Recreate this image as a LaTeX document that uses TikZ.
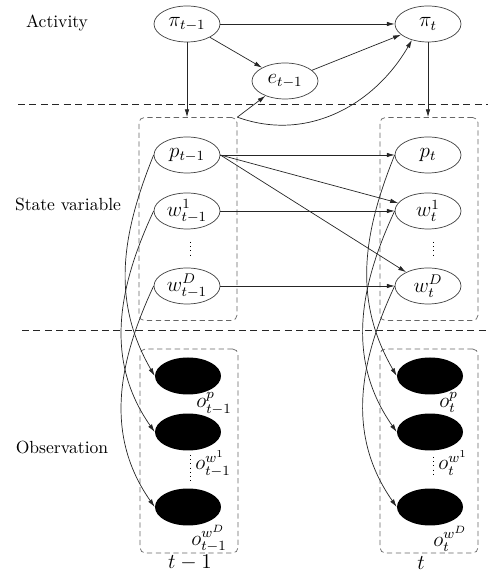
\documentclass[tikz,border=0pt]{standalone}
\usepackage{amsmath,amssymb}
\usepackage{xcolor}
\usepackage{tikz}
\usetikzlibrary{arrows.meta,shapes.geometric}

\begin{document}
\begin{tikzpicture}[x=0.02cm,y=0.02cm,
  var/.style={ellipse,draw=black!75,minimum width=1.32cm,minimum height=0.72cm,inner sep=0pt,font=\large},
  obs/.style={ellipse,fill=black,minimum width=1.32cm,minimum height=0.74cm,inner sep=0pt},
  olab/.style={anchor=base west,inner sep=0pt,font=\large},
  slice/.style={draw=black!60,dash pattern=on 3pt off 2pt,rounded corners=3pt,minimum width=1.96cm},
  arr/.style={-{Latex[length=4.5pt,width=2.6pt]},black!85},
  rowline/.style={dash pattern=on 4pt off 2.5pt,black!85}]
  \useasboundingbox (0,0) rectangle (488,574);

  % layer separators
  \draw[rowline] (18,470) -- (488,470);
  \draw[rowline] (22,244) -- (488,244);

  % layer names
  \node (lact)   at (57,551) {Activity};
  \node (lstate) at (68,369) {State variable};
  \node (lobs)   at (62,126) {Observation};

  % time slices
  \node[slice,minimum height=4.06cm] (sbox1) at (188,355) {};
  \node[slice,minimum height=4.06cm] (sbox2) at (429,355) {};
  \node[slice,minimum height=4.08cm] (obox1) at (189,123) {};
  \node[slice,minimum height=4.08cm] (obox2) at (429,123) {};
  \node[font=\large] (tprev) at (190,11) {$t-1$};
  \node[font=\large] (tcur)  at (421,11) {$t$};

  % activity layer
  \node[var] (pi1) at (187,550) {$\pi_{t-1}$};
  \node[var] (pi2) at (428,550) {$\pi_t$};
  \node[var] (e1)  at (285,493) {$e_{t-1}$};

  % state variables
  \node[var] (p1)  at (187,419) {$p_{t-1}$};
  \node[var] (wa1) at (187,363) {$w^1_{t-1}$};
  \node[var] (wd1) at (187,288) {$w^D_{t-1}$};
  \node[var] (p2)  at (428,419) {$p_t$};
  \node[var] (wa2) at (428,363) {$w^1_t$};
  \node[var] (wd2) at (428,288) {$w^D_t$};
  \draw[dotted] (190,332) -- (190,318);
  \draw[dotted] (433,332) -- (433,318);

  % observations
  \node[obs] (op1)  at (188,198) {};
  \node[obs] (owa1) at (188,142) {};
  \node[obs] (owd1) at (188,67) {};
  \node[obs] (op2)  at (430,198) {};
  \node[obs] (owa2) at (430,142) {};
  \node[obs] (owd2) at (430,67) {};
  \node[olab] (lop1)  at (196,166) {$o^{p}_{t-1}$};
  \node[olab] (lowa1) at (195,104) {$o^{w^1}_{t-1}$};
  \node[olab] (lowd1) at (191,29) {$o^{w^D}_{t-1}$};
  \node[olab] (lop2)  at (439,166) {$o^{p}_{t}$};
  \node[olab] (lowa2) at (438,104) {$o^{w^1}_{t}$};
  \node[olab] (lowd2) at (433,28) {$o^{w^D}_{t}$};
  \draw[dotted] (190,119) -- (190,92);
  \draw[dotted] (433,117) -- (433,96);

  % activity transitions
  \draw[arr] (pi1) -- (pi2);
  \draw[arr] (pi1) -- (e1);
  \draw[arr] (e1) -- (pi2);
  \draw[arr] (pi1.south) -- (pi1.south |- sbox1.north);
  \draw[arr] (pi2.south) -- (pi2.south |- sbox2.north);
  \draw[arr] (sbox1.north east) -- (e1);
  \draw[arr] (sbox1.north east) to[out=-20,in=-120] (pi2.225);

  % state transitions
  \draw[arr] (p1) -- (p2);
  \draw[arr] (p1.east) -- (wa2);
  \draw[arr] (p1.east) -- (wd2);
  \draw[arr] (wa1) -- (wa2);
  \draw[arr] (wd1) -- (wd2);

  % emissions
  \draw[arr] (p1.west)  to[out=248,in=120] (op1.west);
  \draw[arr] (wa1.west) to[out=245,in=125] (owa1.west);
  \draw[arr] (wd1.west) to[out=245,in=125] (owd1.west);
  \draw[arr] (p2.west)  to[out=248,in=120] (op2.west);
  \draw[arr] (wa2.west) to[out=245,in=125] (owa2.west);
  \draw[arr] (wd2.west) to[out=245,in=125] (owd2.west);
\end{tikzpicture}
\end{document}
